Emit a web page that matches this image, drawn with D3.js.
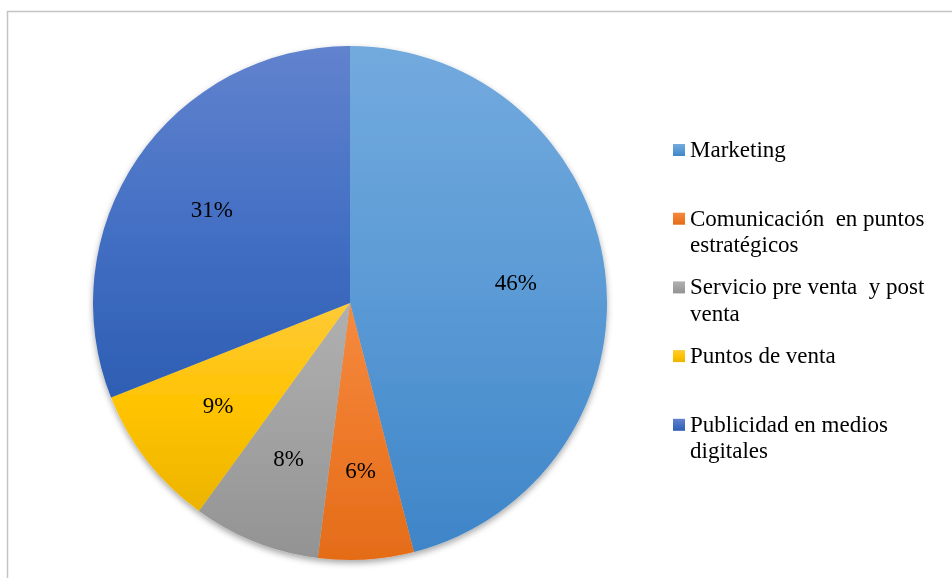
<!DOCTYPE html>
<html>
<head>
<meta charset="utf-8">
<script src="https://cdn.jsdelivr.net/npm/d3@7"></script>
</head>
<body style="margin:0;background:#fff">
<svg id="chart" width="952" height="578"></svg>
<script>
// Categories and their shares (%)
const categories = [
  "Marketing",
  "Comunicación  en puntos estratégicos",
  "Servicio pre venta  y post venta",
  "Puntos de venta",
  "Publicidad en medios digitales"
];
const values = [46, 6, 8, 9, 31];
const valueLabels = ["46%", "6%", "8%", "9%", "31%"];

// Gradient stops per slice: light at the top of each slice, dark at the bottom
const gradTop = ["#73AADE", "#F58A40", "#B0B0B0", "#FFCA38", "#6283CE"];
const gradMid = ["#5A9AD5", "#EE7A2A", "#A2A2A2", "#FFC300", "#4470C4"];
const gradBot = ["#3E85C8", "#E46C18", "#939393", "#ECB400", "#2E5EB3"];

const FONT = '"Liberation Serif"';
const FONT_SIZE = 23;
const W = 952, H = 578;
const cx = 350, cy = 303, R = 257;

function serifText(sel) {
  return sel.append("text")
    .attr("font-size", FONT_SIZE)
    .style("font-family", FONT, "important");
}

function draw() {
  const svg = d3.select("#chart");
  svg.selectAll("*").remove();
  const defs = svg.append("defs");

  // Frame
  svg.append("rect")
    .attr("x", 7.5).attr("y", 11.5)
    .attr("width", W + 10).attr("height", H + 10)
    .attr("fill", "#fff")
    .attr("stroke", "#C4C4C4").attr("stroke-width", 1.5);

  // Soft shadow under the pie
  const shadow = defs.append("filter").attr("id", "pieShadow")
    .attr("x", "-10%").attr("y", "-10%").attr("width", "120%").attr("height", "120%");
  shadow.append("feDropShadow")
    .attr("dx", 0).attr("dy", 3).attr("stdDeviation", 3)
    .attr("flood-color", "#000").attr("flood-opacity", 0.35);

  categories.forEach((c, i) => {
    const g = defs.append("linearGradient")
      .attr("id", "grad" + i)
      .attr("x1", 0).attr("y1", 0).attr("x2", 0).attr("y2", 1);
    g.append("stop").attr("offset", "0%").attr("stop-color", gradTop[i]);
    g.append("stop").attr("offset", "50%").attr("stop-color", gradMid[i]);
    g.append("stop").attr("offset", "100%").attr("stop-color", gradBot[i]);
  });

  const pie = d3.pie().sort(null).value(d => d).startAngle(0).endAngle(2 * Math.PI);
  const arcs = pie(values);
  const arc = d3.arc().innerRadius(0).outerRadius(R);
  const labelArc = d3.arc().innerRadius(R * 0.3).outerRadius(R);

  svg.append("g").attr("filter", "url(#pieShadow)")
    .selectAll("path.slice")
    .data(arcs)
    .join("path")
    .attr("class", "slice")
    .attr("transform", `translate(${cx},${cy})`)
    .attr("d", arc)
    .attr("fill", (d, i) => `url(#grad${i})`);

  // Percentage labels
  arcs.forEach((d, i) => {
    const [lx, ly] = labelArc.centroid(d);
    serifText(svg)
      .attr("x", cx + lx).attr("y", cy + ly)
      .attr("text-anchor", "middle")
      .attr("dy", "0.35em")
      .text(valueLabels[i]);
  });

  // Legend
  const legX = 673, textX = 690, firstBase = 157, step = 68.7, lineH = 26.6, maxW = 256;
  categories.forEach((c, i) => {
    const base = firstBase + i * step;
    svg.append("rect")
      .attr("x", legX).attr("y", base - 13)
      .attr("width", 12).attr("height", 12)
      .attr("fill", `url(#grad${i})`);
    // wrap words to the legend width
    const words = c.split(" ");
    let line = "", lines = [];
    const probe = serifText(svg).style("white-space", "pre");
    words.forEach(w => {
      const trial = line === "" ? w : line + " " + w;
      probe.text(trial);
      if (probe.node().getComputedTextLength() > maxW && line !== "") {
        lines.push(line);
        line = w;
      } else {
        line = trial;
      }
    });
    lines.push(line);
    probe.remove();
    lines.forEach((l, k) => {
      serifText(svg)
        .style("white-space", "pre")
        .attr("x", textX).attr("y", base + k * lineH)
        .text(l);
    });
  });
}

draw();
// Redraw once the serif face is ready so wrapping uses its metrics
if (document.fonts && document.fonts.load) {
  document.fonts.load(`${FONT_SIZE}px "Liberation Serif"`).then(draw, draw);
}
</script>
</body>
</html>
